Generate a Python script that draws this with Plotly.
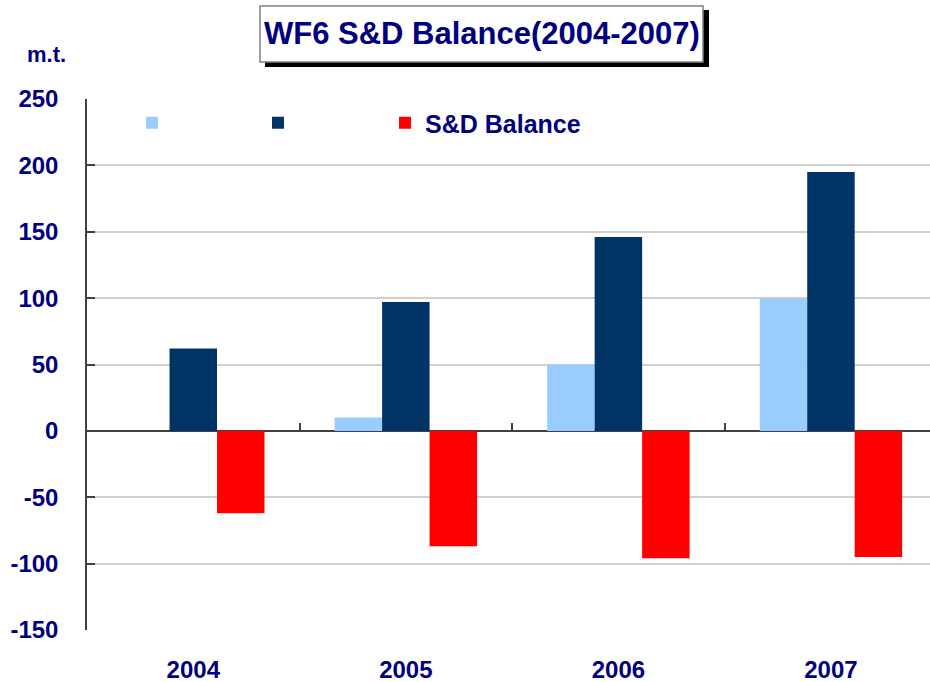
import plotly.graph_objects as go

years = ["2004", "2005", "2006", "2007"]
supply = [0, 10, 50, 100]
demand = [62, 97, 146, 195]
balance = [-62, -87, -96, -95]
series_names = ["", "", "S&D Balance"]
colors = ["#99CCFF", "#003366", "#FF0000"]
y_tickvals = [250, 200, 150, 100, 50, 0, -50, -100, -150]
y_ticktext = ["250", "200", "150", "100", "50", "0", "-50", "-100", "-150"]

NAVY = "#000080"
FONT = "Liberation Sans, Arial, sans-serif"

W, H = 930, 682
L, R, T, B = 87, 0, 99, 52
pw = W - L - R
ph = H - T - B

def px_x(p):
    return (p - L) / pw

def px_y(p):
    return (H - B - p) / ph

legend_ids = ["legend", "legend2", "legend3"]
legend_lefts = [132, 258, 385]

fig = go.Figure()
for name, vals, col, lg in zip(series_names, [supply, demand, balance], colors, legend_ids):
    fig.add_trace(go.Bar(x=years, y=vals, name=name, legend=lg,
                         marker=dict(color=col, line=dict(width=0))))

# invisible helper to host the overlaid boundary-tick axis
fig.add_trace(go.Scatter(x=[0.5], y=[0], xaxis="x2", mode="markers",
                         marker=dict(opacity=0), showlegend=False, hoverinfo="skip"))

legend_common = dict(orientation="h", xanchor="left", y=px_y(100), yanchor="top",
                     bgcolor="rgba(255,255,255,0)", borderwidth=0,
                     font=dict(size=25, color=NAVY, family=FONT, weight="bold"))

fig.update_layout(
    width=W, height=H,
    margin=dict(l=L, r=R, t=T, b=B, autoexpand=False),
    paper_bgcolor="white", plot_bgcolor="white",
    barmode="group", bargap=0.33, bargroupgap=0,
    font=dict(family=FONT, color=NAVY, size=24, weight="bold"),
    showlegend=True,
    xaxis=dict(type="category", range=[-0.5, 3.466], showgrid=False, showline=False,
               ticks="", tickfont=dict(size=24, color=NAVY, family=FONT, weight="bold"),
               ticklabelstandoff=23, zeroline=False, automargin=False),
    xaxis2=dict(overlaying="x", anchor="free", position=150 / 400, range=[-0.5, 3.466],
                tickmode="array", tickvals=[i + 0.5 for i in range(len(years) - 1)],
                ticks="inside", ticklen=8, tickwidth=1.5, tickcolor="#404040",
                showticklabels=False, showgrid=False, showline=False, zeroline=False,
                automargin=False),
    yaxis=dict(range=[-150, 250], tickmode="array", tickvals=y_tickvals, ticktext=y_ticktext,
               showgrid=True, gridcolor="#D0D0D0",
               gridwidth=1.5, showline=True, linecolor="#404040", linewidth=1.5,
               ticks="inside", ticklen=8, tickwidth=1.5, tickcolor="#404040",
               zeroline=True, zerolinecolor="#404040", zerolinewidth=1.5,
               tickfont=dict(size=24, color=NAVY, family=FONT, weight="bold"),
               ticklabelstandoff=22, automargin=False),
)
for lg, left in zip(legend_ids, legend_lefts):
    fig.update_layout({lg: dict(legend_common, x=px_x(left))})

# white strip hiding the top gridline behind the legend area (as in the reference)
fig.add_shape(type="line", xref="paper", yref="paper",
              x0=px_x(116), x1=px_x(606), y0=1, y1=1,
              line=dict(color="white", width=3), layer="above")

# title box with shadow
fig.add_shape(type="rect", xref="paper", yref="paper",
              x0=px_x(265), x1=px_x(709), y0=px_y(67), y1=px_y(10),
              fillcolor="black", line=dict(width=0), layer="above")
fig.add_shape(type="rect", xref="paper", yref="paper",
              x0=px_x(260), x1=px_x(703), y0=px_y(62), y1=px_y(6),
              fillcolor="white", line=dict(color="#808080", width=1.5), layer="above")
fig.add_annotation(text="WF6 S&D Balance(2004-2007)", xref="paper", yref="paper",
                   x=px_x(482), y=px_y(33), showarrow=False, xanchor="center", yanchor="middle",
                   font=dict(size=31, color=NAVY, family=FONT, weight="bold"))
fig.add_annotation(text="m.t.", xref="paper", yref="paper",
                   x=px_x(46), y=px_y(54), showarrow=False, xanchor="center", yanchor="middle",
                   font=dict(size=22, color=NAVY, family=FONT, weight="bold"))

fig.write_html("out.html", config={"displayModeBar": False},
               post_script="document.body.style.margin='0';document.body.style.overflow='hidden';")
